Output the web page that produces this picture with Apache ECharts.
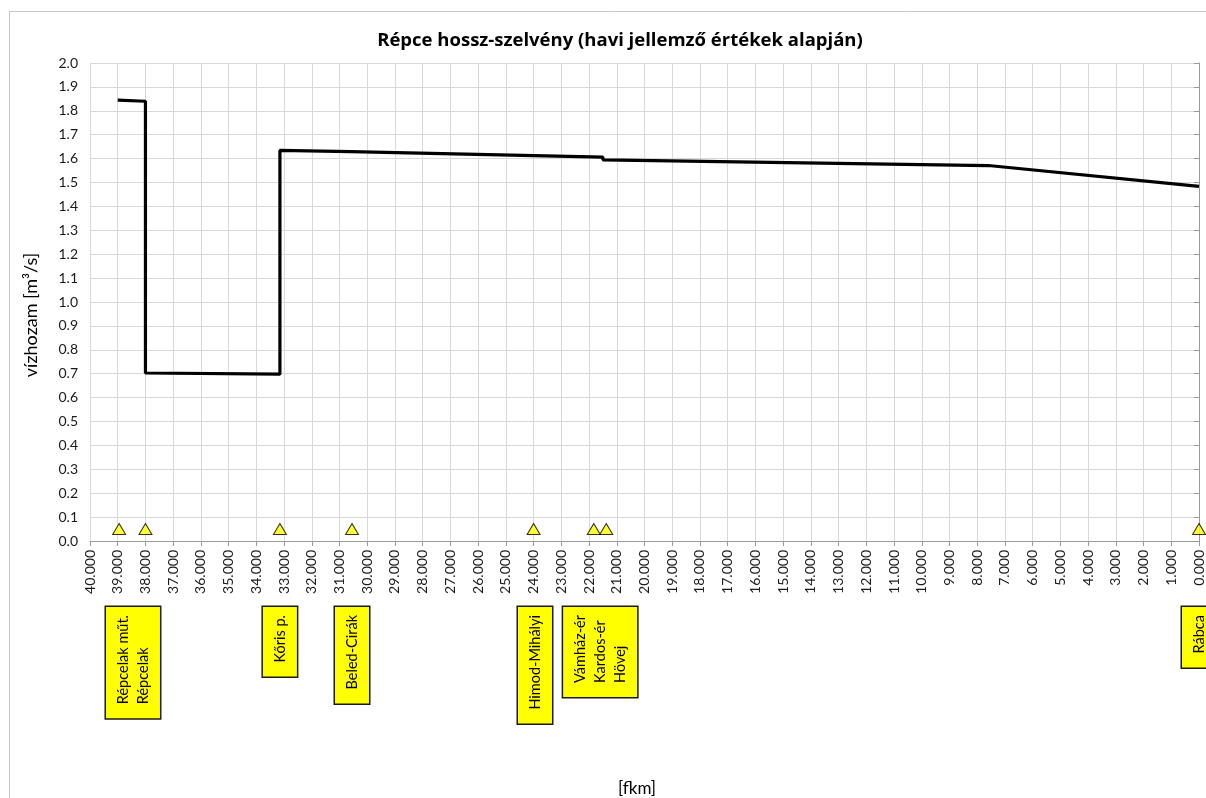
<!DOCTYPE html>
<html>
<head>
<meta charset="utf-8">
<script src="https://cdn.jsdelivr.net/npm/echarts@6/dist/echarts.min.js"></script>
<style>
  html, body { margin: 0; padding: 0; background: #fff; }
  #chart { width: 1206px; height: 798px; }
</style>
</head>
<body>
<div id="chart"></div>
<script>
// Longitudinal profile of the Répce: discharge along the river kilometre
const titleText = 'Répce hossz-szelvény (havi jellemző értékek alapján)';
const yAxisTitle = 'vízhozam [m³/s]';
const xAxisTitle = '[fkm]';

// profile vertices: river km and discharge [m3/s]
const profileKm   = [39.0, 38.0, 38.0, 33.15, 33.15, 30.6, 30.6, 21.5, 21.5, 7.6, 0.0];
const profileFlow = [1.845, 1.840, 0.703, 0.698, 1.634, 1.629, 1.626, 1.606, 1.595, 1.571, 1.484];

// sections (triangle markers along the bed)
const sectionKm   = [38.95, 38.0, 33.15, 30.55, 24.0, 21.83, 21.38, 0.0];
const sectionFlow = [0.05, 0.05, 0.05, 0.05, 0.05, 0.05, 0.05, 0.05];

// section name boxes under the axis
const boxKm    = [38.45, 33.15, 30.55, 23.95, 21.6, 0.0];
const boxNames = [
  ['Répcelak műt.', 'Répcelak'],
  ['Kőris p.'],
  ['Beled-Cirák'],
  ['Himod-Mihályi'],
  ['Vámház-ér', 'Kardos-ér', 'Hövej'],
  ['Rábca']
];

const FONT = 'Lato, "Open Sans", sans-serif';
const chart = echarts.init(document.getElementById('chart'), null, { renderer: 'canvas' });

const profileData = profileKm.map((k, i) => [k, profileFlow[i]]);
const sectionData = sectionKm.map((k, i) => [k, sectionFlow[i]]);

chart.setOption({
  animation: false,
  backgroundColor: '#ffffff',
  title: {
    text: titleText,
    left: 615,
    textAlign: 'center',
    top: 26,
    textStyle: { fontFamily: '"Open Sans", Lato, sans-serif', fontSize: 18.5, fontWeight: 'bold', color: '#000' }
  },
  grid: { left: 90, right: 6, top: 63, bottom: 257 },
  xAxis: {
    type: 'value',
    inverse: true,
    min: 0, max: 40, interval: 1,
    axisLine: { onZero: false, lineStyle: { color: '#9a9a9a', width: 1 } },
    axisTick: { show: true, length: 5, lineStyle: { color: '#9a9a9a' } },
    axisLabel: {
      rotate: 90, margin: 9,
      fontFamily: FONT, fontSize: 14, color: '#1a1a1a',
      formatter: v => v.toFixed(3)
    },
    splitLine: { show: true, lineStyle: { color: '#d9d9d9', width: 1 } }
  },
  yAxis: {
    type: 'value',
    min: 0, max: 2, interval: 0.1,
    axisLine: { show: true, lineStyle: { color: '#9a9a9a', width: 1 } },
    axisTick: { show: true, length: 5, lineStyle: { color: '#9a9a9a' } },
    axisLabel: { margin: 12, fontFamily: FONT, fontSize: 14, color: '#1a1a1a', formatter: v => v.toFixed(1) },
    splitLine: { show: true, lineStyle: { color: '#d9d9d9', width: 1 } }
  },
  series: [
    {
      type: 'line',
      data: profileData,
      showSymbol: false,
      lineStyle: { color: '#000', width: 3.2 },
      z: 3
    },
    {
      type: 'scatter',
      data: sectionData,
      symbol: 'triangle',
      symbolSize: [13, 11],
      itemStyle: { color: '#ffff00', borderColor: '#000', borderWidth: 1 },
      z: 4
    }
  ]
});

// text width helper for the rotated name boxes
const measureCtx = document.createElement('canvas').getContext('2d');
function textWidth(str, font) {
  measureCtx.font = font;
  return measureCtx.measureText(str).width;
}

// axis titles, frame and section name boxes
function drawOverlay() {
  const boxFont = '14.5px ' + FONT;
  const pad = [7, 8, 7, 14]; // local frame: top, right, bottom, left
  const els = [
    {
      type: 'rect',
      shape: { x: 9.5, y: 11.5, width: 1400, height: 1000 },
      style: { fill: 'none', stroke: '#c6c6c6', lineWidth: 1 },
      silent: true, z: -1
    },
    {
      type: 'text',
      x: 31, y: 315,
      rotation: Math.PI / 2,
      style: { text: yAxisTitle, font: '18px ' + FONT, fill: '#000', align: 'center', verticalAlign: 'middle' }
    },
    {
      type: 'text',
      x: 637, y: 789,
      style: { text: xAxisTitle, font: '17px ' + FONT, fill: '#000', align: 'center', verticalAlign: 'middle' }
    }
  ];
  boxKm.forEach((k, i) => {
    const px = chart.convertToPixel({ xAxisIndex: 0 }, k);
    const w = Math.max.apply(null, boxNames[i].map(s => textWidth(s, boxFont)));
    const outer = w + pad[1] + pad[3];
    els.push({
      type: 'text',
      x: px, y: 607 + outer,
      rotation: Math.PI / 2,
      style: {
        text: boxNames[i].join('\n'),
        font: boxFont,
        fill: '#000',
        align: 'left',
        verticalAlign: 'middle',
        lineHeight: 20,
        backgroundColor: '#ffff00',
        borderColor: '#1a1a1a',
        borderWidth: 1.5,
        padding: pad
      },
      z: 10
    });
  });
  chart.setOption({ graphic: els });
}
drawOverlay();
</script>
</body>
</html>
